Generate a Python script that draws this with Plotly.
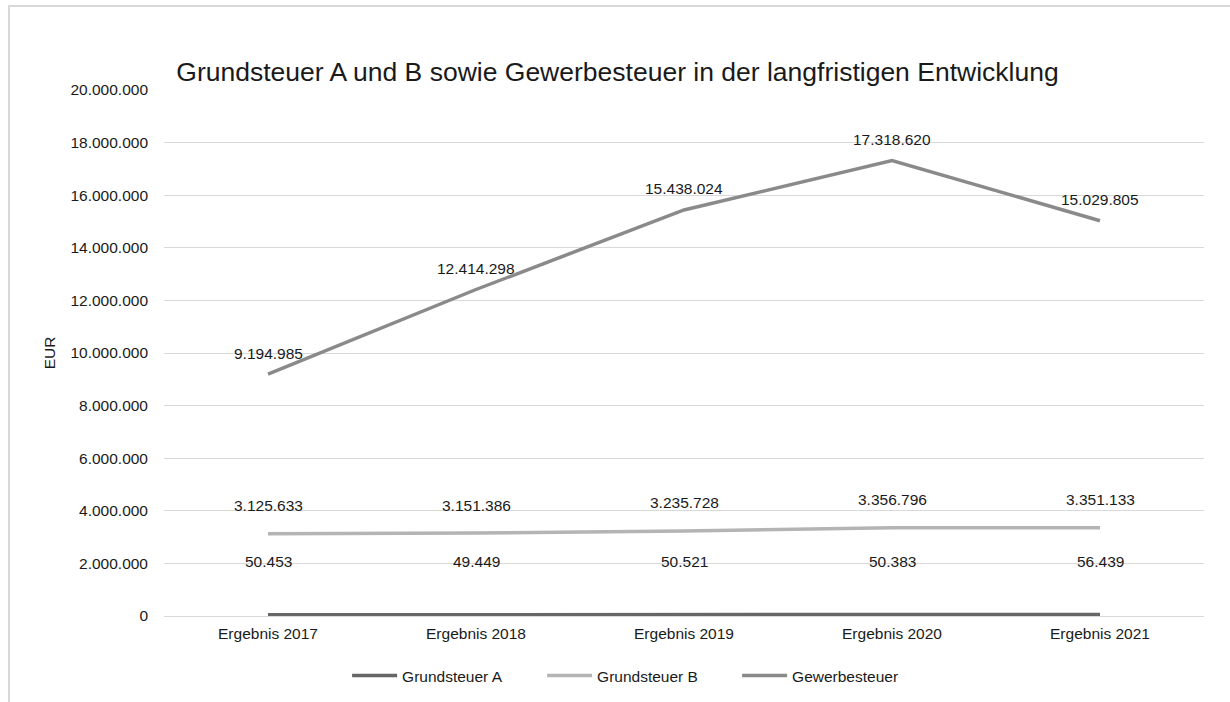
import plotly.graph_objects as go

categories = ["Ergebnis 2017", "Ergebnis 2018", "Ergebnis 2019", "Ergebnis 2020", "Ergebnis 2021"]
grundsteuer_a = [50453, 49449, 50521, 50383, 56439]
grundsteuer_b = [3125633, 3151386, 3235728, 3356796, 3351133]
gewerbesteuer = [9194985, 12414298, 15438024, 17318620, 15029805]
y_ticks = [0, 2000000, 4000000, 6000000, 8000000, 10000000, 12000000, 14000000, 16000000, 18000000, 20000000]

series = [
    ("Grundsteuer A", grundsteuer_a, "#666666", 53),
    ("Grundsteuer B", grundsteuer_b, "#b4b4b4", 28),
    ("Gewerbesteuer", gewerbesteuer, "#8a8a8a", 21),
]

def de(v):
    return f"{v:,}".replace(",", ".")

fig = go.Figure()
annotations = []
for name, vals, color, shift in series:
    fig.add_trace(go.Scatter(x=categories, y=vals, name=name, mode="lines",
                             line=dict(color=color, width=3.5)))
    for c, v in zip(categories, vals):
        annotations.append(dict(x=c, y=v, xref="x", yref="y", text=de(v), showarrow=False,
                                yshift=shift, font=dict(size=15.5, color="#1a1a1a")))

fig.update_layout(
    width=1230, height=702,
    margin=dict(l=164, r=26, t=90, b=86),
    paper_bgcolor="white", plot_bgcolor="white",
    separators=",.",
    font=dict(family="Liberation Sans, Arial, sans-serif", size=15.5, color="#1a1a1a"),
    title=dict(text="Grundsteuer A und B sowie Gewerbesteuer in der langfristigen Entwicklung",
               x=0.502, xref="container", xanchor="center", y=1 - 72 / 702, yref="container", yanchor="middle",
               font=dict(size=26.5, color="#1a1a1a")),
    xaxis=dict(range=[-0.5, 4.5], showgrid=False, showline=False, ticks="", ticklabelstandoff=6,
               tickfont=dict(size=15.5)),
    yaxis=dict(range=[0, 20000000], tickvals=y_ticks, tickformat=",d", showgrid=True,
               gridcolor="#d9d9d9", gridwidth=1, zeroline=True, zerolinecolor="#d9d9d9", zerolinewidth=1,
               ticks="", ticklabelstandoff=15, tickfont=dict(size=15.5),
               title=dict(text="EUR", font=dict(size=15.5), standoff=10)),
    legend=dict(orientation="h", x=0.52, xref="container", xanchor="center",
                y=1 - 676 / 702, yref="container", yanchor="middle", font=dict(size=15.5),
                itemwidth=45, entrywidth=135, entrywidthmode="pixels", tracegroupgap=0),
    annotations=annotations,
    shapes=[dict(type="rect", xref="paper", yref="paper",
                 x0=(9 - 164) / 1040, x1=1.2, y0=-0.3, y1=(616 - 6) / 526,
                 line=dict(color="#d9d9d9", width=2), fillcolor="rgba(0,0,0,0)", layer="below")],
)
fig.write_html("out.html", config={"displayModeBar": False},
               post_script="document.body.style.margin='0';")
